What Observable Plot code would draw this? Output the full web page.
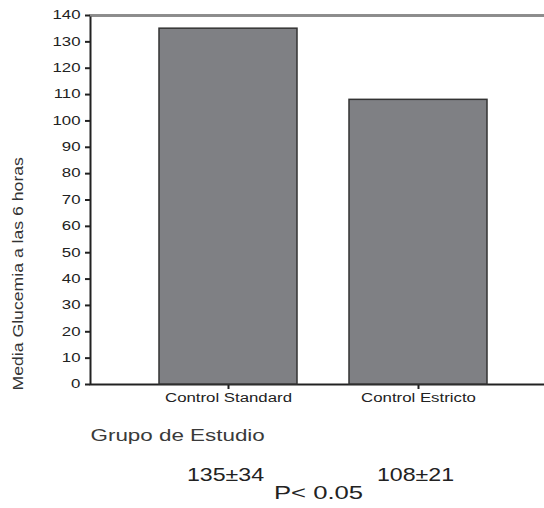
<!DOCTYPE html>
<html>
<head>
<meta charset="utf-8">
<script src="https://cdn.jsdelivr.net/npm/d3@7"></script>
<script src="https://cdn.jsdelivr.net/npm/@observablehq/plot@0.6"></script>
<style>
  html, body { margin: 0; padding: 0; background: #fff; overflow: hidden; }
  #chart svg { display: block; }
  #chart svg [aria-label^="x-axis"] line, #chart svg [aria-label^="x-axis"] path,
  #chart svg [aria-label^="y-axis"] line, #chart svg [aria-label^="y-axis"] path {
    stroke: #222; stroke-width: 2px;
  }
</style>
</head>
<body>
<div id="chart"></div>
<script>
// ---- data ----
const groups = ["Control Standard", "Control Estricto"];
const means = [135, 108];
const sds = [34, 21];
const yTicks = [0, 10, 20, 30, 40, 50, 60, 70, 80, 90, 100, 110, 120, 130, 140];
const yLabel = "Media Glucemia a las 6 horas";
const xLabel = "Grupo de Estudio";
const pText = "P< 0.05";

const data = groups.map((g, i) => ({group: g, mean: means[i], sd: sds[i], label: `${means[i]}±${sds[i]}`}));

const chart = Plot.plot({
  width: 544,
  height: 508,
  marginTop: 15,
  marginLeft: 90,
  marginRight: -2,
  marginBottom: 124,
  style: {fontFamily: "'Liberation Sans', Arial, sans-serif", fontSize: "12px", color: "#222", background: "#fff"},
  x: {domain: groups, paddingInner: 0.274, paddingOuter: 0.337, align: 0.539, tickSize: 5, tickPadding: 4, label: null},
  y: {domain: [0, 140], ticks: yTicks, tickSize: 5, tickPadding: 5, label: null},
  marks: [
    Plot.frame({stroke: "#222", strokeWidth: 2}),
    Plot.ruleY([yTicks[yTicks.length - 1]], {stroke: "#8c8c8c", strokeWidth: 2}),
    Plot.barY(data, {x: "group", y: "mean", fill: "#7f8084", stroke: "#333", strokeWidth: 1.5}),
    Plot.text([yLabel], {frameAnchor: "bottom-left", rotate: -90, textAnchor: "start", dx: -68, dy: 6, fontSize: 14, fill: "#333"}),
    Plot.text([xLabel], {frameAnchor: "bottom-left", textAnchor: "start", dy: 56, fontSize: 16, fill: "#3a3a3a"}),
    Plot.text(data, {x: "group", frameAnchor: "bottom", text: "label", dx: -3, dy: 96, fontSize: 19, fill: "#222"}),
    Plot.text([pText], {frameAnchor: "bottom", dy: 114, fontSize: 19, fill: "#222"})
  ]
});

document.getElementById("chart").append(chart);
const svg = chart.tagName.toLowerCase() === "svg" ? chart : chart.querySelector("svg");
// the reference lettering is horizontally widened
const widen = new Map([[yLabel, 1.26], [pText, 1.35]]);
data.forEach(d => widen.set(d.label, 1.22));
svg.querySelectorAll("text").forEach(t => {
  const L = t.getComputedTextLength();
  if (L > 0) {
    const f = widen.get(t.textContent.trim()) ?? 1.4;
    t.setAttribute("textLength", (L * f).toFixed(1));
    t.setAttribute("lengthAdjust", "spacingAndGlyphs");
  }
});
</script>
</body>
</html>
